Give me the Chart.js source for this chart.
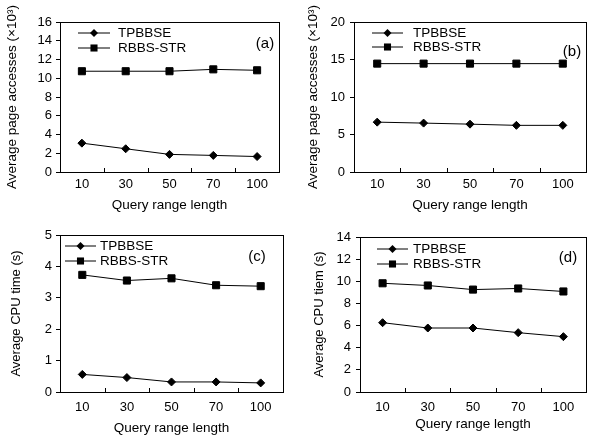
<!DOCTYPE html>
<html>
<head>
<meta charset="utf-8">
<script src="https://cdn.jsdelivr.net/npm/chart.js@4.4.0/dist/chart.umd.min.js"></script>
<style>
  html, body { margin: 0; padding: 0; background: #fff; }
  #wrap { position: relative; width: 592px; height: 439px; }
  canvas { position: absolute; }
</style>
</head>
<body>
<div id="wrap">
  <canvas id="ca" width="296" height="220" style="left:0;top:0"></canvas>
  <canvas id="cb" width="296" height="220" style="left:296px;top:0"></canvas>
  <canvas id="cc" width="296" height="219" style="left:0;top:220px"></canvas>
  <canvas id="cd" width="296" height="219" style="left:296px;top:220px"></canvas>
</div>
<script>
// dati
const queryLengths = ['10', '30', '50', '70', '100'];
const seriesNames = ['TPBBSE', 'RBBS-STR'];

const pagesA_tpbbse = [3.08, 2.48, 1.88, 1.77, 1.65];
const pagesA_rbbs = [10.75, 10.75, 10.75, 10.95, 10.85];

const pagesB_tpbbse = [6.65, 6.52, 6.38, 6.22, 6.22];
const pagesB_rbbs = [14.45, 14.45, 14.45, 14.45, 14.45];

const cpuC_tpbbse = [0.56, 0.46, 0.32, 0.32, 0.29];
const cpuC_rbbs = [3.73, 3.55, 3.62, 3.40, 3.37];

const cpuD_tpbbse = [6.26, 5.78, 5.78, 5.36, 5.0];
const cpuD_rbbs = [9.82, 9.62, 9.25, 9.35, 9.08];

const FONT = 'Liberation Sans, Arial, sans-serif';

// legenda dentro l'area del grafico + etichetta (a)/(b)...
const boxPlugin = {
    id: 'boxPlugin',
    afterDraw(chart) {
        const ctx = chart.ctx;
        const a = chart.chartArea;
        const o = chart.options.plugins.boxPlugin;
        ctx.save();
        // cornice
        ctx.strokeStyle = '#000';
        ctx.lineWidth = 1;
        ctx.strokeRect(Math.round(a.left) + 0.5, Math.round(a.top) + 0.5,
            Math.round(a.right - a.left), Math.round(a.bottom - a.top));
        // tacche asse x verso l'interno
        const xs = chart.scales.x;
        ctx.beginPath();
        for (let i = 1; i < queryLengths.length; i++) {
            const px = Math.round((xs.getPixelForTick(i - 1) + xs.getPixelForTick(i)) / 2) + 0.5;
            ctx.moveTo(px, a.bottom);
            ctx.lineTo(px, a.bottom - 4);
        }
        ctx.stroke();
        // legenda
        ctx.font = o.legendSize + 'px ' + FONT;
        ctx.textBaseline = 'middle';
        ctx.fillStyle = '#000';
        chart.data.datasets.forEach(function (ds, i) {
            const y = a.top + o.legendY[i];
            const x1 = a.left + o.legendX[0];
            const x2 = a.left + o.legendX[1];
            ctx.beginPath();
            ctx.moveTo(x1, y);
            ctx.lineTo(x2, y);
            ctx.stroke();
            drawMarker(ctx, ds.pointStyle, (x1 + x2) / 2, y, ds.pointRadius);
            ctx.fillText(ds.label, a.left + o.legendX[2], y);
        });
        ctx.font = o.tagSize + 'px ' + FONT;
        ctx.textAlign = 'center';
        ctx.fillText(o.tag, a.left + o.tagPos[0], a.top + o.tagPos[1]);
        ctx.restore();
    }
};

function drawMarker(ctx, style, x, y, r) {
    ctx.beginPath();
    if (style === 'rect') {
        const s = Math.SQRT1_2 * r;
        ctx.rect(x - s, y - s, 2 * s, 2 * s);
    } else {
        ctx.moveTo(x, y - r);
        ctx.lineTo(x + r, y);
        ctx.lineTo(x, y + r);
        ctx.lineTo(x - r, y);
        ctx.closePath();
    }
    ctx.fillStyle = '#000';
    ctx.fill();
}

function makeChart(id, cfg) {
    const canvas = document.getElementById(id);
    const W = canvas.width, H = canvas.height;
    return new Chart(canvas, {
        type: 'line',
        data: {
            labels: queryLengths,
            datasets: [{
                label: seriesNames[0],
                data: cfg.tp,
                borderColor: '#000',
                backgroundColor: '#000',
                borderWidth: 1,
                pointStyle: 'rectRot',
                pointRadius: 4,
                tension: 0
            }, {
                label: seriesNames[1],
                data: cfg.rb,
                borderColor: '#000',
                backgroundColor: '#000',
                borderWidth: 1,
                pointStyle: 'rect',
                pointRadius: 5,
                tension: 0
            }]
        },
        options: {
            responsive: false,
            animation: false,
            layout: {
                padding: { left: 0, top: cfg.area.top, right: W - cfg.area.right, bottom: 0 }
            },
            scales: {
                x: {
                    offset: true,
                    grid: { display: false, drawTicks: false },
                    border: { display: false },
                    ticks: { color: '#000', font: { family: FONT, size: 13 }, padding: cfg.xPad, maxRotation: 0 },
                    title: {
                        display: true, text: 'Query range length', color: '#000',
                        font: { family: FONT, size: 13.5 }, padding: { top: 0, bottom: cfg.xTitlePad }
                    },
                    afterFit(s) { s.height = H - cfg.area.bottom; }
                },
                y: {
                    min: 0,
                    max: cfg.max,
                    grid: { drawOnChartArea: false, drawTicks: true, tickLength: 4, color: '#000' },
                    border: { display: false },
                    ticks: { stepSize: cfg.step, color: '#000', font: { family: FONT, size: 13 }, padding: cfg.yPad },
                    title: {
                        display: true, text: cfg.yTitle, color: '#000',
                        font: { family: FONT, size: cfg.yTitleSize }, padding: { top: cfg.yTitlePad, bottom: 0 }
                    },
                    afterFit(s) { s.width = cfg.area.left; }
                }
            },
            plugins: {
                legend: { display: false },
                tooltip: { enabled: false },
                boxPlugin: cfg.box
            }
        },
        plugins: [boxPlugin]
    });
}

makeChart('ca', {
    tp: pagesA_tpbbse, rb: pagesA_rbbs, max: 16, step: 2,
    yTitle: 'Average page accesses (×10³)', yTitleSize: 13.5, yTitlePad: 4,
    area: { left: 60, right: 279, top: 22, bottom: 172 },
    xPad: 5, xTitlePad: 7, yPad: 4,
    box: { legendX: [18, 50, 58], legendY: [11, 26], legendSize: 13.5, tag: '(a)', tagPos: [205, 22], tagSize: 15 }
});

makeChart('cb', {
    tp: pagesB_tpbbse, rb: pagesB_rbbs, max: 20, step: 5,
    yTitle: 'Average page accesses (×10³)', yTitleSize: 13.5, yTitlePad: 9,
    area: { left: 58, right: 293, top: 22, bottom: 172 },
    xPad: 5, xTitlePad: 7, yPad: 5,
    box: { legendX: [18, 49, 59], legendY: [11, 25], legendSize: 13.5, tag: '(b)', tagPos: [218, 30], tagSize: 15 }
});

makeChart('cc', {
    tp: cpuC_tpbbse, rb: cpuC_rbbs, max: 5, step: 1,
    yTitle: 'Average CPU time (s)', yTitleSize: 13, yTitlePad: 9,
    area: { left: 60, right: 283, top: 15, bottom: 172 },
    xPad: 8, xTitlePad: 3, yPad: 4,
    box: { legendX: [5, 36, 40], legendY: [11, 26], legendSize: 13.5, tag: '(c)', tagPos: [197, 22], tagSize: 15 }
});

makeChart('cd', {
    tp: cpuD_tpbbse, rb: cpuD_rbbs, max: 14, step: 2,
    yTitle: 'Average CPU tiem (s)', yTitleSize: 13, yTitlePad: 16,
    area: { left: 64, right: 295, top: 17, bottom: 172 },
    xPad: 8, xTitlePad: 7, yPad: 5,
    box: { legendX: [17, 48, 53], legendY: [12, 27], legendSize: 13.5, tag: '(d)', tagPos: [208, 21], tagSize: 15 }
});
</script>
</body>
</html>
